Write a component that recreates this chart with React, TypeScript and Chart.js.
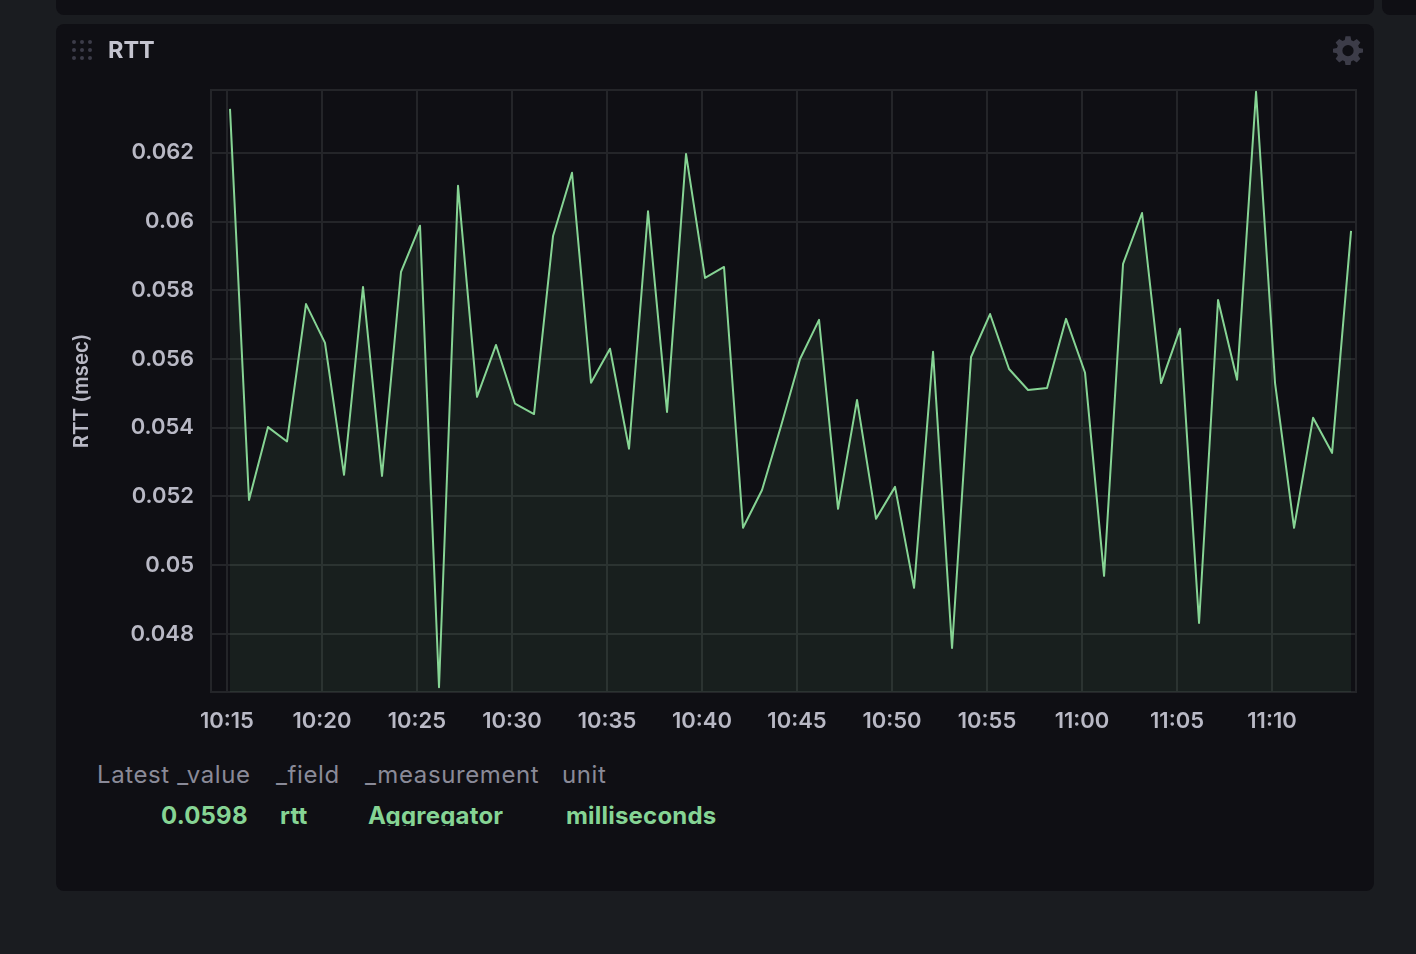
import React, { useEffect, useRef } from "react";
import { Chart, registerables } from "chart.js";

Chart.register(...registerables);

const minutes = [
  15.16, 16.16, 17.16, 18.16, 19.16, 20.16, 21.16, 22.16, 23.16, 24.16,
  25.16, 26.16, 27.16, 28.16, 29.16, 30.16, 31.16, 32.16, 33.16, 34.16,
  35.16, 36.16, 37.16, 38.16, 39.16, 40.16, 41.16, 42.16, 43.16, 44.16,
  45.16, 46.16, 47.16, 48.16, 49.16, 50.16, 51.16, 52.16, 53.16, 54.16,
  55.16, 56.16, 57.16, 58.16, 59.16, 60.16, 61.16, 62.16, 63.16, 64.16,
  65.16, 66.16, 67.16, 68.16, 69.16, 70.16, 71.16, 72.16, 73.16, 74.16,
];
const rtt = [
  0.06328, 0.0519, 0.05402, 0.0536, 0.0576, 0.05647, 0.05263, 0.0581, 0.0526, 0.05854,
  0.05988, 0.04645, 0.06104, 0.0549, 0.05641, 0.0547, 0.0544, 0.05958, 0.06142, 0.05531,
  0.0563, 0.05339, 0.0603, 0.05446, 0.06197, 0.05836, 0.05868, 0.05109, 0.05219, 0.05405,
  0.056, 0.05714, 0.05164, 0.05481, 0.05135, 0.05228, 0.04934, 0.05621, 0.04759, 0.05606,
  0.05731, 0.05571, 0.0551, 0.05516, 0.05717, 0.0556, 0.04969, 0.05877, 0.06025, 0.0553,
  0.05688, 0.04832, 0.05772, 0.0554, 0.06378, 0.0553, 0.05109, 0.05429, 0.05327, 0.05973,
];
const xTickValues = [15, 20, 25, 30, 35, 40, 45, 50, 55, 60, 65, 70];
const xTickLabels = ["10:15", "10:20", "10:25", "10:30", "10:35", "10:40", "10:45", "10:50", "10:55", "11:00", "11:05", "11:10"];
const yTickValues = [0.048, 0.05, 0.052, 0.054, 0.056, 0.058, 0.06, 0.062];
const yTickLabels = ["0.048", "0.05", "0.052", "0.054", "0.056", "0.058", "0.06", "0.062"];
const legendHeaders = ["Latest _value", "_field", "_measurement", "unit"];
const legendValues = ["0.0598", "rtt", "Aggregator", "milliseconds"];

const FONT = "Inter, 'Noto Sans', sans-serif";
const GRID = "#242529";
const GREEN = "#86d494";
const TICK = "#b9b9c5";

const plotFrame = {
  id: "plotFrame",
  beforeDatasetsDraw(chart: any) {
    const { ctx, chartArea: a } = chart;
    ctx.save();
    ctx.strokeStyle = GRID;
    ctx.lineWidth = 2;
    ctx.strokeRect(a.left, a.top, a.right - a.left, a.bottom - a.top);
    ctx.restore();
  },
};

export default function App() {
  const ref = useRef<HTMLCanvasElement>(null);

  useEffect(() => {
    document.body.style.margin = "0";
    document.body.style.background = "#1a1c20";
    const chart = new Chart(ref.current!, {
      type: "line",
      plugins: [plotFrame],
      data: {
        datasets: [
          {
            data: minutes.map((m, i) => ({ x: m, y: rtt[i] })),
            borderColor: GREEN,
            borderWidth: 2,
            borderJoinStyle: "round",
            pointRadius: 0,
            tension: 0,
            fill: "start",
            backgroundColor: "rgba(131,209,143,0.085)",
          },
        ],
      },
      options: {
        animation: false,
        responsive: false,
        layout: { padding: { left: 14, top: 66, right: 18, bottom: 0 } },
        plugins: { legend: { display: false }, tooltip: { enabled: false } },
        scales: {
          x: {
            type: "linear",
            min: 14.16,
            max: 74.42,
            afterBuildTicks: (s: any) => {
              s.ticks = xTickValues.map((value) => ({ value }));
            },
            afterFit: (s: any) => {
              s.height = 42;
            },
            grid: { color: GRID, lineWidth: 2, drawTicks: false },
            border: { color: GRID, width: 2 },
            ticks: {
              autoSkip: false,
              maxRotation: 0,
              padding: 16,
              color: TICK,
              font: { family: FONT, size: 22, weight: 600 },
              callback: (v: any) => xTickLabels[xTickValues.indexOf(v)],
            },
          },
          y: {
            type: "linear",
            min: 0.04631,
            max: 0.06383,
            afterBuildTicks: (s: any) => {
              s.ticks = yTickValues.map((value) => ({ value }));
            },
            afterFit: (s: any) => {
              s.width = 141;
            },
            grid: { color: GRID, lineWidth: 2, drawTicks: false },
            border: { color: GRID, width: 2 },
            title: {
              display: true,
              text: "RTT (msec)",
              color: TICK,
              font: { family: FONT, size: 20.5, weight: 600 },
              padding: { top: 0, bottom: 0 },
            },
            ticks: {
              autoSkip: false,
              padding: 17,
              color: TICK,
              font: { family: FONT, size: 22, weight: 600 },
              callback: (v: any) => yTickLabels[yTickValues.indexOf(v)],
            },
          },
        },
      },
    } as any);
    return () => chart.destroy();
  }, []);

  const headerX = [97, 276, 365, 562];
  const valueX = [161, 280, 368, 566];
  const dots = [0, 1, 2].flatMap((r) => [0, 1, 2].map((c) => [c, r]));

  return (
    <div style={{ position: "relative", width: 1416, height: 954, overflow: "hidden", background: "#1a1c20", fontFamily: FONT }}>
      <div style={{ position: "absolute", left: 56, top: -20, width: 1318, height: 35, background: "#0f0f14", borderRadius: 8 }} />
      <div style={{ position: "absolute", left: 1382, top: -20, width: 60, height: 35, background: "#0f0f14", borderRadius: 8 }} />
      <div style={{ position: "absolute", left: 56, top: 24, width: 1318, height: 867, background: "#0f0f14", borderRadius: 8 }} />
      <canvas ref={ref} width={1318} height={710} style={{ position: "absolute", left: 56, top: 24, display: "block" }} />
      <svg style={{ position: "absolute", left: 71, top: 39 }} width={22} height={22}>
        {dots.map(([c, r]) => (
          <circle key={`${c}-${r}`} cx={3 + c * 8} cy={3 + r * 8} r={2} fill="#3c3c48" />
        ))}
      </svg>
      <div style={{ position: "absolute", left: 108, top: 36, fontSize: 23.5, lineHeight: "28px", fontWeight: 700, color: "#c4c4cf" }}>RTT</div>
      <svg style={{ position: "absolute", left: 1333, top: 35 }} width={30} height={30} viewBox="0 0 24 24">
        <path
          fill="#3c3c48"
          fillRule="evenodd"
          d="M10 1h4l.6 3.1 1.8.8L19 3.1 21.9 6l-1.8 2.6.8 1.8L24 11v3l-3.1.6-.8 1.8 1.8 2.6-2.9 2.9-2.6-1.8-1.8.8L14 24h-4l-.6-3.1-1.8-.8L5 21.9 2.1 19l1.8-2.6-.8-1.8L0 14v-3l3.1-.6.8-1.8L2.1 6 5 3.1l2.6 1.8 1.8-.8L10 1zm2 7a4.5 4.5 0 1 0 0 9 4.5 4.5 0 0 0 0-9z"
        />
      </svg>
      {legendHeaders.map((t, i) => (
        <div key={t} style={{ position: "absolute", left: headerX[i], top: 761, fontSize: 24, letterSpacing: 0.6, lineHeight: "28px", color: "#8a8a98", whiteSpace: "nowrap" }}>{t}</div>
      ))}
      {legendValues.map((t, i) => (
        <div key={t} style={{ position: "absolute", left: valueX[i], top: 802, height: 24, overflow: "hidden", fontSize: 24, letterSpacing: 0.2, lineHeight: "28px", fontWeight: 700, color: GREEN, whiteSpace: "nowrap" }}>{t}</div>
      ))}
    </div>
  );
}
